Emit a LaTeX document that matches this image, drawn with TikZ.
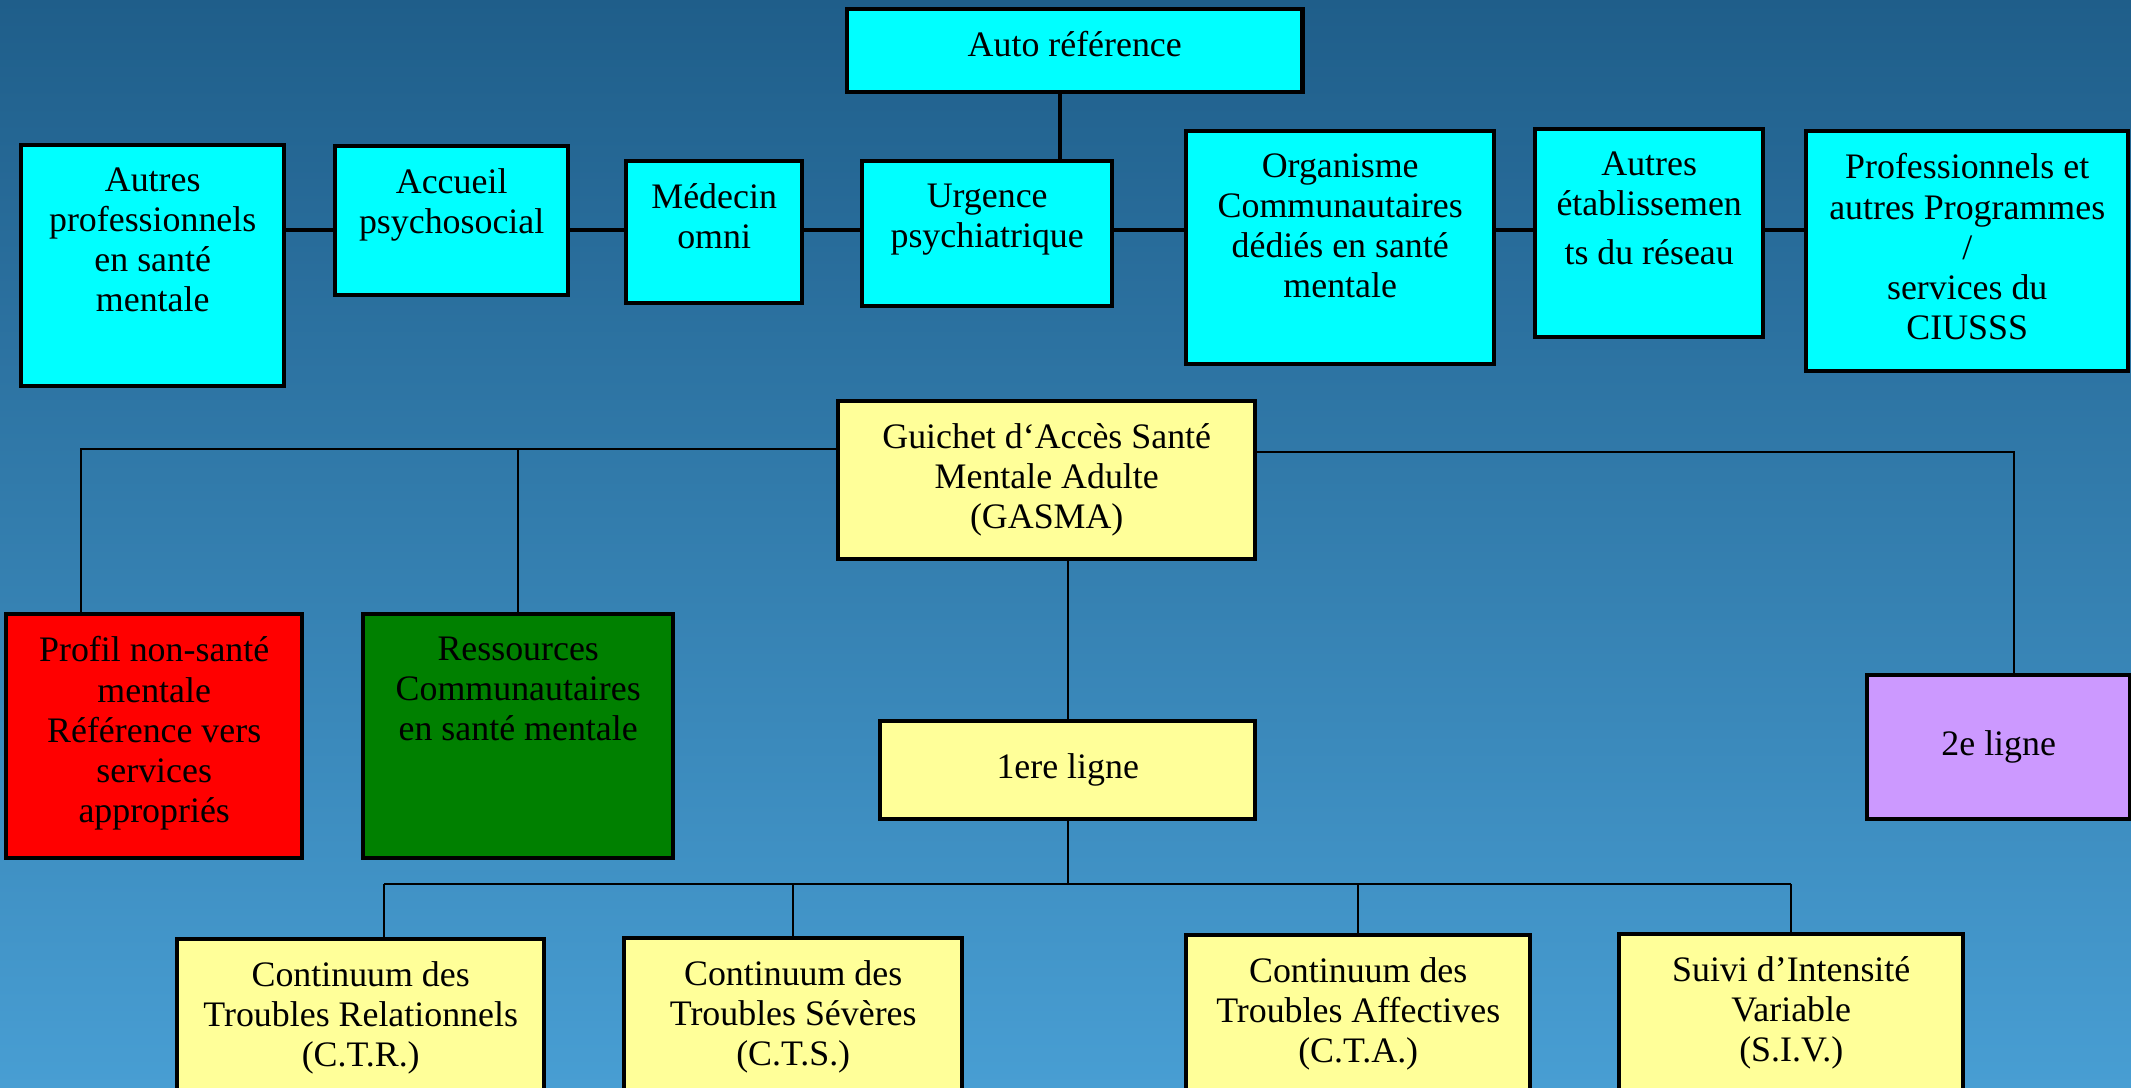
\documentclass[tikz,border=0pt]{standalone}
\usepackage{fontspec}
\setmainfont{Liberation Serif}
\usetikzlibrary{calc}
\definecolor{fondhaut}{RGB}{31,94,138}
\definecolor{fondbas}{RGB}{72,158,211}
\definecolor{cyanvif}{RGB}{0,255,255}
\definecolor{jaune}{RGB}{255,255,153}
\definecolor{rouge}{RGB}{255,0,0}
\definecolor{vert}{RGB}{0,128,0}
\definecolor{mauve}{RGB}{204,153,255}
\begin{document}
\begin{tikzpicture}[x=0.01cm, y=-0.01cm,
  boite/.style={draw=black, line width=1.2pt, rectangle, anchor=north west, inner sep=0pt,
    font=\fontsize{10.2}{11.4}\selectfont},
  txt/.style={align=center, anchor=north, inner sep=0pt, font=\fontsize{10.2}{11.4}\selectfont},
  gros/.style={line width=1.1pt},
  fil/.style={line width=0.5pt}]
\useasboundingbox (0,0) rectangle (2131,1087);
\clip (0,0) rectangle (2131,1087);
\fill[top color=fondhaut, bottom color=fondbas] (0,0) rectangle (2131,1087);
% ligne du haut
\node[boite, fill=cyanvif, minimum width=4.55cm, minimum height=0.83cm] (auto) at (845,7) {};
\node[boite, fill=cyanvif, minimum width=2.63cm, minimum height=2.41cm] (autres) at (19,143) {};
\node[boite, fill=cyanvif, minimum width=2.33cm, minimum height=1.49cm] (accueil) at (333,144) {};
\node[boite, fill=cyanvif, minimum width=1.76cm, minimum height=1.42cm] (medecin) at (624,159) {};
\node[boite, fill=cyanvif, minimum width=2.50cm, minimum height=1.45cm] (urgence) at (860,159) {};
\node[boite, fill=cyanvif, minimum width=3.08cm, minimum height=2.33cm] (organisme) at (1184,129) {};
\node[boite, fill=cyanvif, minimum width=2.28cm, minimum height=2.08cm] (etab) at (1533,127) {};
\node[boite, fill=cyanvif, minimum width=3.22cm, minimum height=2.40cm] (prof) at (1804,129) {};
\node[txt] (auto-t) at ($(auto.north)+(0,24)$) {Auto référence};
\node[txt] (autres-t) at ($(autres.north)+(0,24)$) {Autres\\professionnels\\en santé\\mentale};
\node[txt] (accueil-t) at ($(accueil.north)+(0,24)$) {Accueil\\psychosocial};
\node[txt] (medecin-t) at ($(medecin.north)+(0,24)$) {Médecin\\omni};
\node[txt] (urgence-t) at ($(urgence.north)+(0,24)$) {Urgence\\psychiatrique};
\node[txt] (organisme-t) at ($(organisme.north)+(0,24)$) {Organisme\\Communautaires\\dédiés en santé\\mentale};
\node[txt] (etab-t) at ($(etab.north)+(0,24)$) {Autres\\établissemen\\[2.5pt]ts du réseau};
\node[txt] (prof-t) at ($(prof.north)+(0,24)$) {Professionnels et\\autres Programmes\\/\\services du\\CIUSSS};
\coordinate (rang) at (0,230);
\foreach \a/\b in {autres/accueil, accueil/medecin, medecin/urgence, urgence/organisme, organisme/etab, etab/prof}
{
    \draw[gros] (\a.east |- rang) -- (\b.west |- rang);
}
\coordinate (autopied) at ($(auto.south)+(-15,0)$);
\draw[gros] (autopied) -- (autopied |- urgence.north);
% GASMA
\node[boite, fill=jaune, minimum width=4.17cm, minimum height=1.58cm] (gasma) at (836,399) {};
\node[txt] (gasma-t) at ($(gasma.north)+(0,24)$) {Guichet d‘Accès Santé\\Mentale Adulte\\(GASMA)};
\node[boite, fill=rouge, minimum width=2.96cm, minimum height=2.44cm] (profil) at (4,612) {};
\node[txt] (profil-t) at ($(profil.north)+(0,24)$) {Profil non-santé\\mentale\\Référence vers\\services\\appropriés};
\node[boite, fill=vert, minimum width=3.10cm, minimum height=2.44cm] (ressources) at (361,612) {};
\node[txt] (ressources-t) at ($(ressources.north)+(0,24)$) {Ressources\\Communautaires\\en santé mentale};
\node[boite, fill=jaune, minimum width=3.75cm, minimum height=0.98cm] (premiere) at (878,719) {1ere ligne};
\node[boite, fill=mauve, minimum width=2.63cm, minimum height=1.44cm] (deux) at (1865,673) {2e ligne};
\coordinate (gbus) at (81,449);
\draw[fil] (gasma.west |- gbus) -- (gbus) -- (gbus |- profil.north);
\draw[fil] (ressources.north) -- (ressources.north |- gbus);
\coordinate (dbus) at (2014,452);
\draw[fil] (gasma.east |- dbus) -- (dbus) -- (dbus |- deux.north);
\draw[fil] (premiere.north) -- (premiere.north |- gasma.south);
% continuums
\node[boite, fill=jaune, minimum width=3.67cm, minimum height=2cm] (ctr) at (175,937) {};
\node[boite, fill=jaune, minimum width=3.38cm, minimum height=2cm] (cts) at (622,936) {};
\node[boite, fill=jaune, minimum width=3.44cm, minimum height=2cm] (cta) at (1184,933) {};
\node[boite, fill=jaune, minimum width=3.44cm, minimum height=2cm] (siv) at (1617,932) {};
\node[txt] (ctr-t) at ($(ctr.north)+(0,24)$) {Continuum des\\Troubles Relationnels\\(C.T.R.)};
\node[txt] (cts-t) at ($(cts.north)+(0,24)$) {Continuum des\\Troubles Sévères\\(C.T.S.)};
\node[txt] (cta-t) at ($(cta.north)+(0,24)$) {Continuum des\\Troubles Affectives\\(C.T.A.)};
\node[txt] (siv-t) at ($(siv.north)+(0,24)$) {Suivi d’Intensité\\Variable\\(S.I.V.)};
\coordinate (bbus) at (384,884);
\draw[fil] (premiere.south) -- (premiere.south |- bbus);
\draw[fil] (bbus) -- (bbus -| siv.north);
\draw[fil] (bbus) -- (bbus |- ctr.north);
\foreach \n in {cts,cta,siv}
{
    \draw[fil] (\n.north) -- (\n.north |- bbus);
}
\end{tikzpicture}
\end{document}
